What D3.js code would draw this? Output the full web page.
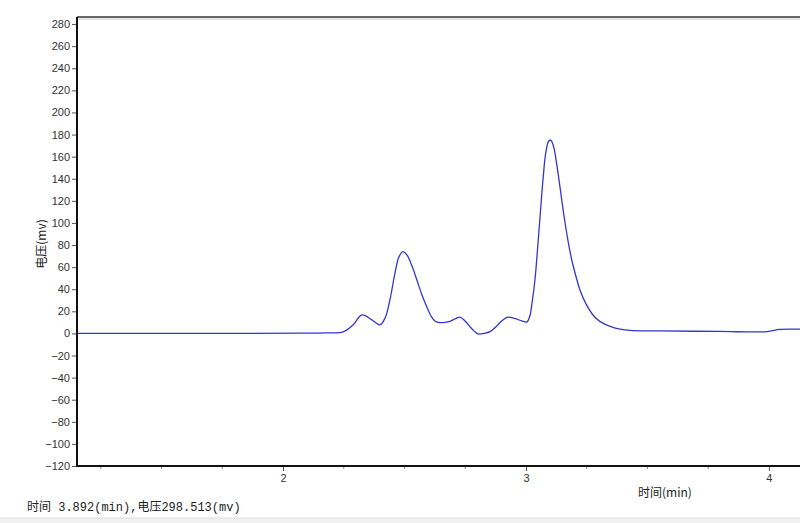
<!DOCTYPE html>
<html><head><meta charset="utf-8">
<script src="https://cdn.jsdelivr.net/npm/d3@7"></script>
<style>body{margin:0;background:#fff}svg{display:block}</style>
</head><body>
<svg id="c" width="800" height="523"></svg>
<script>
const times = [1.152,1.658,2.070,2.173,2.247,2.288,2.325,2.366,2.399,2.420,2.440,2.461,2.477,2.494,2.510,2.531,2.551,2.572,2.592,2.609,2.625,2.646,2.679,2.708,2.728,2.749,2.769,2.786,2.802,2.827,2.852,2.880,2.905,2.926,2.954,2.983,3.004,3.016,3.025,3.037,3.049,3.057,3.070,3.082,3.094,3.103,3.115,3.127,3.140,3.156,3.173,3.189,3.206,3.222,3.247,3.276,3.304,3.358,3.428,3.551,3.798,3.992,4.045,4.128];
const volts = [0,0,0.2,0.5,1.4,7.7,16.7,12.2,7.7,14,30.3,54.8,69.2,74.0,71,61,48.4,34.8,24,15.8,11.3,9.8,10.4,13.1,14.7,11.3,6.2,2.3,-0.5,0,1.6,6.8,12.2,14.7,13.6,11.3,10.4,15.8,27.6,48.4,80,102.7,138.9,164,174.2,174.7,167.9,152.5,132.6,107.2,84,66,51.5,39.5,26.7,16.7,10.9,5.4,2.7,2.3,1.8,1.6,3.6,3.8];
const yTicks = d3.range(-120, 281, 20);
const xMajor = [2,3,4];
const xMinor = d3.range(1.25, 4.13, 0.25).filter(v => Math.abs(v - Math.round(v)) > 1e-6);
const statusText = "时间 3.892(min),电压298.513(mv)";
const xTitle = "时间(min)";
const yTitle = "电压(mv)";

const svg = d3.select("#c");
const L = 77, R = 800, T = 17, B = 466;
const x = d3.scaleLinear().domain([1.152, 4.128]).range([L, R]);
const y = d3.scaleLinear().domain([-120, 286.4]).range([B, T]);

svg.append("defs").append("clipPath").attr("id","clip")
  .append("rect").attr("x",L).attr("y",T).attr("width",R-L).attr("height",B-T);

// top border
svg.append("line").attr("x1",L).attr("x2",R).attr("y1",T).attr("y2",T).attr("stroke","#333").attr("stroke-width",1.5);
svg.append("line").attr("x1",L).attr("x2",R).attr("y1",T+2).attr("y2",T+2).attr("stroke","#ccc").attr("stroke-width",1);

const line = d3.line().x((d,i)=>x(times[i])).y(d=>y(d)).curve(d3.curveCatmullRom.alpha(0.5));
svg.append("path").datum(volts).attr("d",line).attr("fill","none")
  .attr("stroke","#3535d0").attr("stroke-width",1.3).attr("clip-path","url(#clip)");

// Y axis
const yAxis = d3.axisLeft(y).tickValues(yTicks).tickSize(5).tickPadding(2);
const gy = svg.append("g").attr("transform",`translate(${L},0)`).call(yAxis);
gy.select(".domain").remove();
gy.selectAll("text").attr("font-family","Liberation Sans, Arial, sans-serif").attr("font-size",11).attr("fill","#333");
gy.selectAll(".tick line").attr("stroke","#555");
svg.append("line").attr("x1",L).attr("x2",L).attr("y1",T).attr("y2",B+1).attr("stroke","#111").attr("stroke-width",2);

// X axis
const xAxis = d3.axisBottom(x).tickValues(xMajor).tickFormat(d3.format("d")).tickSize(5).tickPadding(3);
const gx = svg.append("g").attr("transform",`translate(0,${B})`).call(xAxis);
gx.select(".domain").remove();
gx.selectAll("text").attr("font-family","Liberation Sans, Arial, sans-serif").attr("font-size",11).attr("fill","#333");
gx.selectAll(".tick line").attr("stroke","#555");
svg.append("g").selectAll("line").data(xMinor).join("line")
  .attr("x1",d=>x(d)).attr("x2",d=>x(d)).attr("y1",B).attr("y2",B+3).attr("stroke","#888");
svg.append("line").attr("x1",L-1).attr("x2",R).attr("y1",B).attr("y2",B).attr("stroke","#111").attr("stroke-width",2);

// titles
svg.append("text").attr("transform","translate(46,244) rotate(-90)").attr("text-anchor","middle")
  .attr("font-family","Noto Sans CJK SC, sans-serif").attr("font-size",12).attr("fill","#222").text(yTitle);
svg.append("text").attr("x",638).attr("y",497)
  .attr("font-family","Noto Sans CJK SC, sans-serif").attr("font-size",12).attr("fill","#222").text(xTitle);

// status
svg.append("text").attr("x",27).attr("y",511)
  .attr("font-family","Liberation Mono, Noto Sans CJK SC, monospace").attr("font-size",12).attr("fill","#222").text(statusText);
svg.append("rect").attr("x",0).attr("y",518).attr("width",800).attr("height",5).attr("fill","#f0f0f0");
svg.append("line").attr("x1",0).attr("x2",800).attr("y1",518).attr("y2",518).attr("stroke","#ddd");
</script>
</body></html>
